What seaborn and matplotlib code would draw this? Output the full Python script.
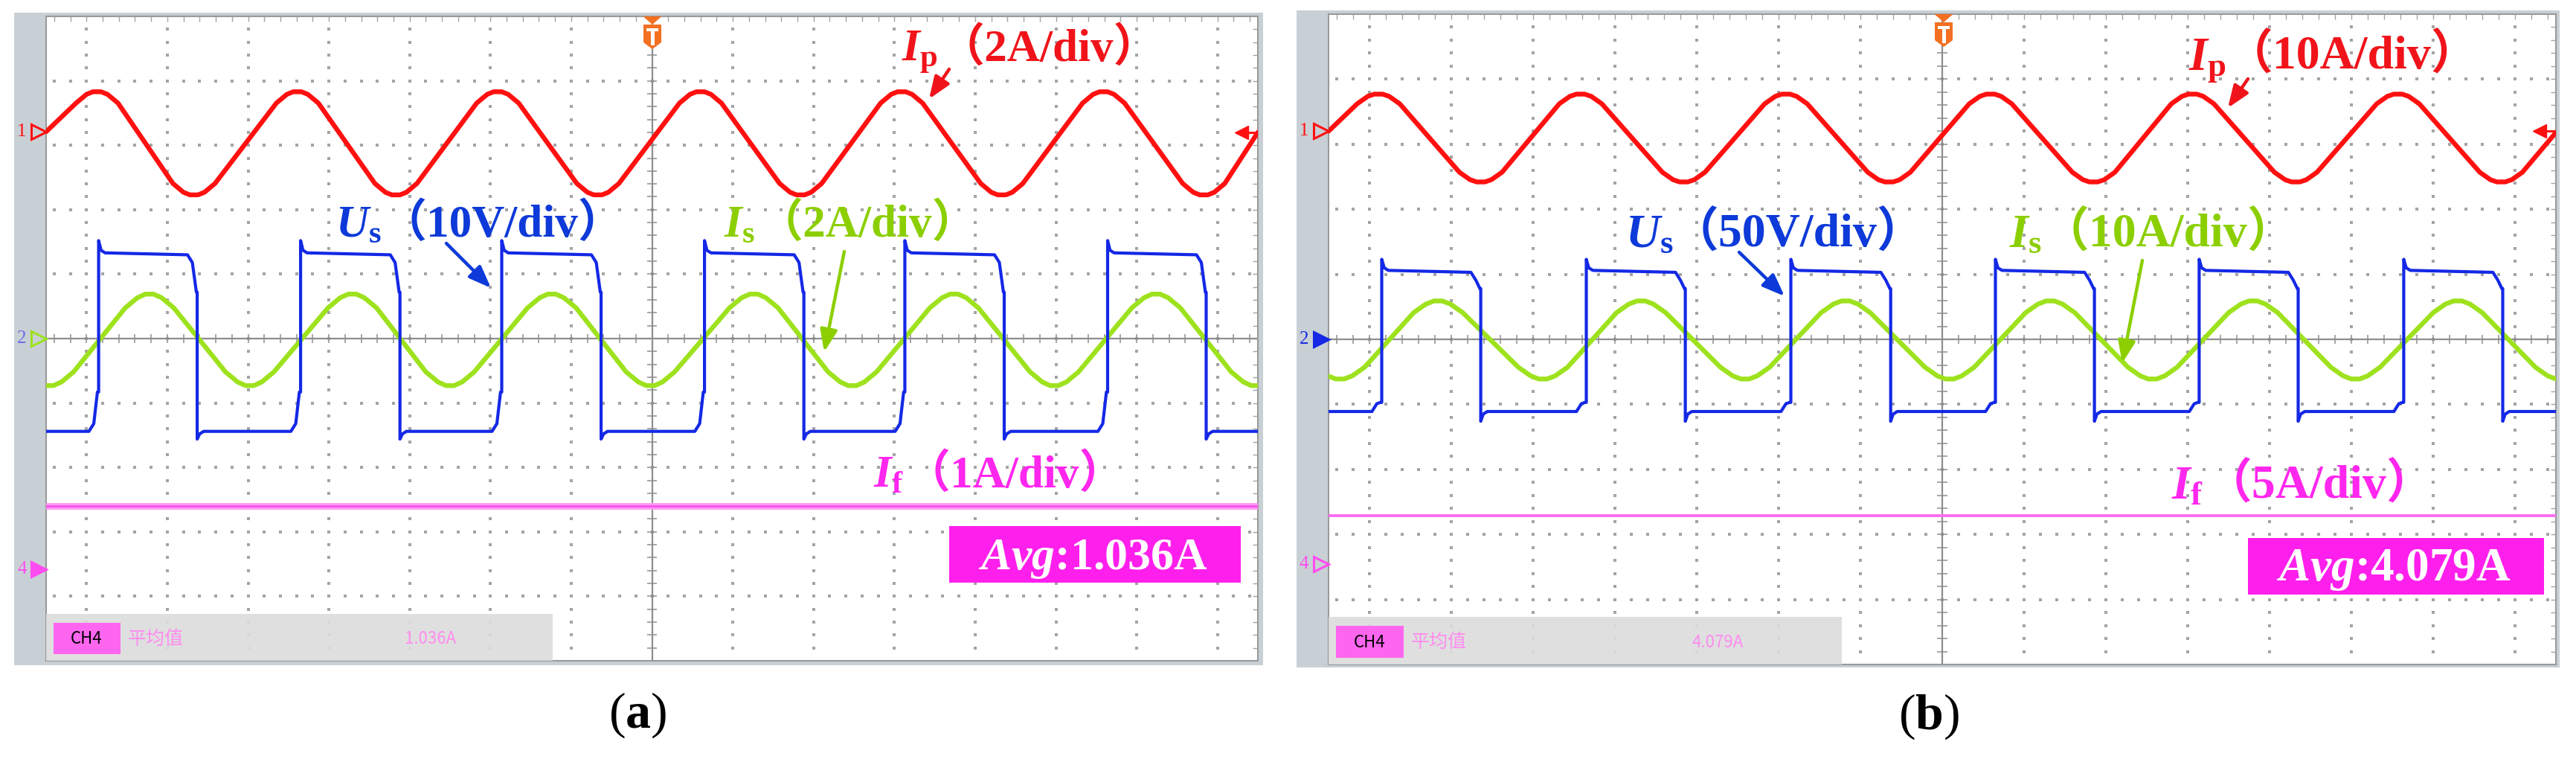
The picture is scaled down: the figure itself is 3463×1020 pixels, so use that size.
import numpy as np
import pandas as pd
import seaborn as sns
import matplotlib.pyplot as plt
from matplotlib.patches import Rectangle, Polygon

# readings off the two scope screens, x and y in divisions from screen centre
# panel (a)
ip_peaks_a = [-6.87, -4.39, -1.91, 0.60, 3.09, 5.59]
ip_troughs_a = [-5.67, -3.17, -0.67, 1.84, 4.33, 6.83]
ip_range_a = [3.83, 2.23]
ip_edges_a = [3.21, 3.20]

is_peaks_a = [-6.22, -3.71, -1.24, 1.26, 3.74, 6.24]
is_troughs_a = [-7.46, -4.98, -2.50, -0.02, 2.48, 4.98, 7.47]
is_range_a = [0.69, -0.73]

us_rise_a = [-6.85, -4.35, -1.86, 0.65, 3.13, 5.64]
us_fall_a = [-5.63, -3.12, -0.63, 1.88, 4.36, 6.86]
us_levels_a = [1.33, -1.44]
us_spikes_a = [1.52, -1.56]
us_knees_a = [0.72, -0.83]

if_level_a = -2.60
marks_a = [3.21, 0.0, -3.58]
trig_a = 3.20
scales_a = ["2A/div", "10V/div", "2A/div", "1A/div"]
avg_a = "1.036A"

# panel (b)
ip_peaks_b = [-6.89, -4.42, -1.91, 0.59, 3.06, 5.57]
ip_troughs_b = [-5.64, -3.16, -0.65, 1.85, 4.32, 6.83]
ip_range_b = [3.77, 2.42]
ip_edges_b = [3.20, 3.18]

is_peaks_b = [-6.16, -3.68, -1.18, 1.32, 3.80, 6.30]
is_troughs_b = [-7.36, -4.88, -2.41, 0.09, 2.57, 5.05, 7.55]
is_range_b = [0.59, -0.61]

us_rise_b = [-6.85, -4.35, -1.85, 0.65, 3.14, 5.64]
us_fall_b = [-5.64, -3.14, -0.63, 1.86, 4.35, 6.85]
us_levels_b = [1.06, -1.11]
us_spikes_b = [1.23, -1.26]
us_knees_b = [0.78, -0.97]

if_level_b = -2.71
marks_b = [3.20, 0.0, -3.46]
trig_b = 3.20
scales_b = ["10A/div", "50V/div", "10A/div", "5A/div"]
avg_b = "4.079A"

names = [r"$\mathit{I}_{\mathrm{p}}$", r"$\mathit{U}_{\mathrm{s}}$",
         r"$\mathit{I}_{\mathrm{s}}$", r"$\mathit{I}_{\mathrm{f}}$"]

W, H = 3463, 1020
RED, BLUE, GREEN = "#ff1010", "#1428e6", "#9ee21e"
RED_T, BLUE_T, GREEN_T, MAG_T = "#f0141a", "#0d3ad8", "#8ccf00", "#ff26ee"
FRAME, DOT, AXIS = "#c9d0d5", "#a4a4a4", "#8e8e8e"
ORANGE = "#f37021"

sns.set_style("white")
plt.rcParams["font.family"] = ["Liberation Serif", "Noto Sans CJK JP"]
plt.rcParams["mathtext.fontset"] = "custom"
plt.rcParams["mathtext.rm"] = "Liberation Serif:bold"
plt.rcParams["mathtext.it"] = "Liberation Serif:italic:bold"
plt.rcParams["mathtext.bf"] = "Liberation Serif:bold"

fig = plt.figure(figsize=((W + 0.01) / 100, (H + 0.01) / 100), dpi=100)
fig.patch.set_facecolor("white")


def fx(x):
    return x / W


def fy(y):
    return 1 - y / H


def rounded_wave(peaks, troughs, rng, dx, fr, edges=None):
    top, bot = rng
    pp = top - bot
    pts = [(t + d, top - f * pp) for t in peaks for d, f in zip(dx, fr)]
    pts += [(t + d, bot + f * pp) for t in troughs for d, f in zip(dx, fr)]
    if edges is not None:
        pts += [(-7.5, edges[0]), (7.5, edges[1])]
    return pd.DataFrame(sorted(pts), columns=["t", "v"])


def square_wave(rise, fall, levels, spikes, knees):
    hi, lo = levels
    over, under = spikes
    sag, lift = knees
    pts = [(-7.5, lo)]
    for r, f in zip(rise, fall):
        pts += [(r - 0.12, lo), (r - 0.06, lo + 0.12), (r - 0.015, lift), (r, lift),
                (r, over), (r + 0.03, hi + 0.04), (r + 0.08, hi),
                (f - 0.12, hi - 0.03), (f - 0.06, hi - 0.15), (f - 0.01, sag), (f, sag),
                (f, under), (f + 0.03, lo - 0.04), (f + 0.08, lo)]
    pts.append((7.5, lo))
    return pd.DataFrame(pts, columns=["t", "v"])


def trace(ax, df, color, lw, z=3):
    sns.lineplot(data=df, x="t", y="v", ax=ax, sort=False, estimator=None,
                 color=color, linewidth=lw, zorder=z, legend=False)


def scope_axes(frame, plot):
    l, t, r, b = frame
    fig.add_artist(Rectangle((fx(l), fy(b)), (r - l) / W, (b - t) / H,
                             transform=fig.transFigure, fc=FRAME, ec="none", zorder=-1))
    l, t, r, b = plot
    ax = fig.add_axes([fx(l), fy(b), (r - l) / W, (b - t) / H])
    ax.set_facecolor("white")
    minor_x = np.arange(-37, 38) * 0.2
    minor_y = np.arange(-24, 25) * 0.2
    gx, gy = [], []
    for k in range(-7, 8):
        if k:
            gx += [k] * len(minor_y)
            gy += list(minor_y)
    for k in range(-4, 5):
        if k:
            gx += list(minor_x)
            gy += [k] * len(minor_x)
    ax.plot(gx, gy, ls="none", marker="s", ms=2.2, mew=0, color=DOT, zorder=1)
    ax.axhline(0, color=AXIS, lw=1.6, zorder=1.5)
    ax.axvline(0, color=AXIS, lw=1.6, zorder=1.5)
    ax.vlines(minor_x, -0.07, 0.07, color=AXIS, lw=1.1, zorder=1.5)
    ax.hlines(minor_y, -0.06, 0.06, color=AXIS, lw=1.1, zorder=1.5)
    ax.set_xticks(minor_x)
    ax.set_yticks(minor_y)
    ax.tick_params(direction="in", length=5, width=1, color=DOT, top=True, right=True,
                   labelbottom=False, labelleft=False)
    for s in ax.spines.values():
        s.set_color("#9a9a9a")
        s.set_linewidth(1.5)
    return ax


def t_marker(cx, top):
    tri = [(cx - 12.5, top), (cx + 12.5, top), (cx, top + 11)]
    body = [(cx - 12, top + 11), (cx + 12, top + 11), (cx + 12, top + 35),
            (cx, top + 44), (cx - 12, top + 35)]
    for poly in (tri, body):
        fig.add_artist(Polygon([(fx(x), fy(y)) for x, y in poly], closed=True,
                               transform=fig.transFigure, fc=ORANGE, ec="none", zorder=6))
    for x0, y0, w, h in ((cx - 8, top + 16, 16, 4), (cx - 2.5, top + 16, 5, 23)):
        fig.add_artist(Rectangle((fx(x0), fy(y0 + h)), w / W, h / H,
                                 transform=fig.transFigure, fc="white", ec="none", zorder=7))


panels = [
    dict(frame=(19, 17, 1698, 894), plot=(62, 22, 1691, 888),
         ip=rounded_wave(ip_peaks_a, ip_troughs_a, ip_range_a,
                         [-0.26, -0.13, -0.05, 0.05, 0.13, 0.26],
                         [0.11, 0.025, 0, 0, 0.025, 0.11], ip_edges_a),
         is_=rounded_wave(is_peaks_a, is_troughs_a, is_range_a,
                          [-0.3, -0.15, -0.05, 0.05, 0.15, 0.3],
                          [0.15, 0.04, 0, 0, 0.04, 0.15]),
         us=square_wave(us_rise_a, us_fall_a, us_levels_a, us_spikes_a, us_knees_a),
         if_level=if_level_a, marks=marks_a, trig=trig_a, scales=scales_a, avg=avg_a,
         mark_fill=[False, False, True], mark_col=[RED, GREEN, "#ff4cf0"],
         two_col="#6a6ae6",
         labels=[(1212, 1262, 82), (451, 512, 318), (973, 1018, 318), (1174, 1216, 655)],
         arrows=[(1276, 93, 1249, 133), (600, 327, 660, 387), (1135, 338, 1108, 473)],
         box=(1276, 707, 1668, 783), box_text=(1315, 765), size=44, avg_size=44.5,
         cap=(857, 978, "a"), tee=(877, 22)),
    dict(frame=(1743, 14, 3441, 897), plot=(1786, 19, 3436, 893),
         ip=rounded_wave(ip_peaks_b, ip_troughs_b, ip_range_b,
                         [-0.26, -0.13, -0.05, 0.05, 0.13, 0.26],
                         [0.11, 0.025, 0, 0, 0.025, 0.11], ip_edges_b),
         is_=rounded_wave(is_peaks_b, is_troughs_b, is_range_b,
                          [-0.3, -0.15, -0.05, 0.05, 0.15, 0.3],
                          [0.15, 0.04, 0, 0, 0.04, 0.15]),
         us=square_wave(us_rise_b, us_fall_b, us_levels_b, us_spikes_b, us_knees_b),
         if_level=if_level_b, marks=marks_b, trig=trig_b, scales=scales_b, avg=avg_b,
         mark_fill=[False, True, False], mark_col=[RED, BLUE, "#ff4cf0"],
         two_col=BLUE,
         labels=[(2942, 2992, 93), (2185, 2247, 332), (2701, 2745, 332), (2919, 2964, 670)],
         arrows=[(3022, 106, 2995, 145), (2338, 339, 2399, 398), (2880, 350, 2853, 488)],
         box=(3022, 723, 3420, 799), box_text=(3060, 780), size=46, avg_size=45.5,
         cap=(2593, 980, "b"), tee=(2613, 19)),
]

for k, p in enumerate(panels):
    ax = scope_axes(p["frame"], p["plot"])

    # traces
    trace(ax, p["ip"], RED, 4.6)
    trace(ax, p["us"], BLUE, 3.0, z=3.2)
    trace(ax, p["is_"], GREEN, 4.6, z=3.1)
    lvl = pd.DataFrame({"t": [-7.5, 7.5], "v": [p["if_level"]] * 2})
    if k == 0:
        trace(ax, lvl, "#ff9cf4", 6.5)
        trace(ax, lvl, "#ff55ee", 2.2)
    else:
        trace(ax, lvl, "#ff6cf2", 2.8)
    ax.set_xlim(-7.5, 7.5)
    ax.set_ylim(-5, 5)
    ax.set_xlabel("")
    ax.set_ylabel("")

    # channel markers on the left strip and trigger level on the right
    for y, num, fill, col in zip(p["marks"], ["1", "2", "4"], p["mark_fill"], p["mark_col"]):
        ax.plot(-7.59, y, marker=">", ms=15, mew=2.2, mec=col,
                mfc=col if fill else "none", clip_on=False, zorder=6)
        tcol = p["two_col"] if num == "2" else col
        ax.text(-7.80, y, num, color=tcol, fontsize=18, ha="center", va="center",
                clip_on=False)
    ax.plot([7.36, 7.5], [p["trig"], p["trig"]], color=RED, lw=2.2, zorder=6)
    ax.plot(7.3, p["trig"], marker="<", ms=13, color=RED, zorder=6)

    # measurement bar at the bottom
    ax.add_patch(Rectangle((-7.5, -5), 6.27, 0.73, fc="#dcdcdc", ec="none",
                           alpha=0.9, zorder=4))
    ax.add_patch(Rectangle((-7.41, -4.90), 0.83, 0.49, fc="#ff66f0", ec="none", zorder=5))
    ax.text(-7.0, -4.66, "CH4", color="black", fontsize=16, family="Noto Sans CJK SC",
            ha="center", va="center", zorder=6)
    ax.text(-6.49, -4.66, "平均值", color="#ff8cf0", fontsize=18, family="Noto Sans CJK SC",
            ha="left", va="center", zorder=6)
    ax.text(-2.74, -4.66, p["avg"], color="#ff8cf0", fontsize=16,
            family="Noto Sans CJK SC", ha="center", va="center", zorder=6)

    # trace labels
    cols = [RED_T, BLUE_T, GREEN_T, MAG_T]
    for name, scale, col, (xi, xb, base) in zip(names, p["scales"], cols, p["labels"]):
        fig.text(fx(xi), fy(base), name, color=col, fontsize=p["size"],
                 ha="left", va="baseline")
        fig.text(fx(xb), fy(base), "（" + scale + "）", color=col, fontsize=p["size"],
                 fontweight="bold", ha="left", va="baseline")
    for (x1, y1, x2, y2), col in zip(p["arrows"], cols):
        ax.annotate("", xy=(fx(x2), fy(y2)), xycoords="figure fraction",
                    xytext=(fx(x1), fy(y1)), textcoords="figure fraction",
                    arrowprops=dict(arrowstyle="-|>,head_length=0.9,head_width=0.35",
                                    color=col, lw=3.2, shrinkA=0, shrinkB=0,
                                    mutation_scale=20), zorder=8)

    # average box
    l, t, r, b = p["box"]
    fig.add_artist(Rectangle((fx(l), fy(b)), (r - l) / W, (b - t) / H,
                             transform=fig.transFigure, fc="#ff1fec", ec="none", zorder=5))
    fig.text(fx(p["box_text"][0]), fy(p["box_text"][1]), r"$\mathit{Avg}$:" + p["avg"],
             color="white", fontsize=p["avg_size"], fontweight="bold",
             ha="left", va="baseline", zorder=6)

    t_marker(*p["tee"])

    cx, cy, letter = p["cap"]
    fig.text(fx(cx), fy(cy), r"($\mathbf{" + letter + r"}$)", color="black", fontsize=49,
             ha="center", va="baseline")

fig.savefig("out.png", dpi=100, facecolor="white")
